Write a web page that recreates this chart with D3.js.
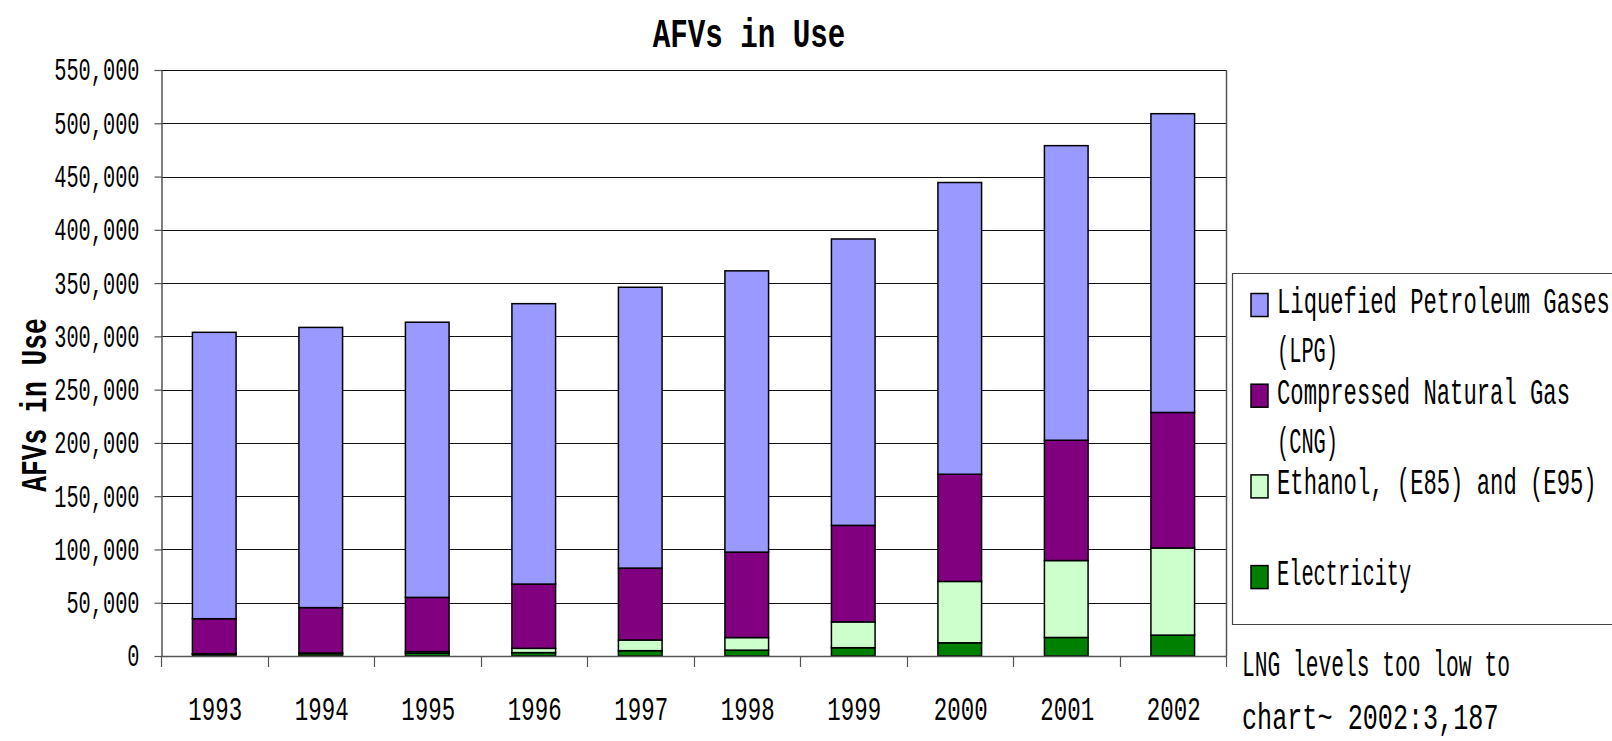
<!DOCTYPE html>
<html>
<head>
<meta charset="utf-8">
<script src="https://cdn.jsdelivr.net/npm/d3@7"></script>
<style>
	body { margin: 0; background: #fff; }
	svg text { font-family: "Liberation Mono", monospace; fill: #000; }
</style>
</head>
<body>
<svg id="chart" width="1612" height="741"></svg>
<script>

var years = ['1993', '1994', '1995', '1996', '1997', '1998', '1999', '2000', '2001', '2002'];

// vehicles in use (bottom to top)
var electricity = [1700, 2200, 2600, 3200, 5000, 5500, 7800, 12400, 17400, 19600];
var ethanol = [500, 600, 1500, 4000, 10000, 11800, 24200, 57600, 72200, 81800];
var cng = [32800, 42600, 50900, 60300, 67500, 80200, 90600, 100600, 112900, 127200];
var lpg = [268800, 263000, 258300, 263200, 263600, 264000, 268800, 273800, 276500, 280400];

var seriesKeys = ['electricity', 'ethanol', 'cng', 'lpg'];
var legendKeys = ['lpg', 'cng', 'ethanol', 'electricity'];
var legendLabels = [
	['Liquefied Petroleum Gases', '(LPG)'],
	['Compressed Natural Gas', '(CNG)'],
	['Ethanol, (E85) and (E95)'],
	['Electricity']
];
var yTicks = [0, 50000, 100000, 150000, 200000, 250000, 300000, 350000, 400000, 450000, 500000, 550000];
var titleText = 'AFVs in Use';
var yTitleText = 'AFVs in Use';
var noteLines = ['LNG  levels too low to', 'chart~ 2002:3,187'];

var colors = {
	electricity: '#008000',
	ethanol: '#ccffcc',
	cng: '#800080',
	lpg: '#9999ff'
};

var plot = { left: 161, right: 1226, top: 70, bottom: 656 };
var W = 1612;

var svg = d3.select('#chart');

// squash the text horizontally round its anchor, the original uses a narrow face
function squeeze(sel, k) {
	sel.each(function(d, i) {
		var f = (typeof k === 'function') ? k(d, i) : k;
		var el = d3.select(this);
		var x0 = +el.attr('x') || 0;
		var t = el.attr('transform') || '';
		el.attr('transform', t + ' translate(' + x0 + ',0) scale(' + f + ',1) translate(' + (-x0) + ',0)');
	});
}

var rows = years.map(function(yr, i) {
	return {
		year: yr,
		electricity: electricity[i],
		ethanol: ethanol[i],
		cng: cng[i],
		lpg: lpg[i]
	};
});

var stacked = d3.stack().keys(seriesKeys)(rows);

var x = d3.scaleBand()
	.domain(years)
	.range([plot.left, plot.right]);

var y = d3.scaleLinear()
	.domain([0, 550000])
	.range([plot.bottom, plot.top]);

var barWidth = x.bandwidth() * 0.41;

// gridlines
svg.append('g').attr('class', 'grid')
	.selectAll('line')
	.data(yTicks.filter(function(d) { return d > 0; }))
	.enter()
	.append('line')
		.attr('x1', plot.left)
		.attr('x2', plot.right)
		.attr('y1', function(d) { return Math.round(y(d)) + 0.5; })
		.attr('y2', function(d) { return Math.round(y(d)) + 0.5; })
		.attr('stroke', '#111')
		.attr('stroke-width', 1.2);

// right border of the plot area
svg.append('line')
	.attr('x1', plot.right + 0.5).attr('x2', plot.right + 0.5)
	.attr('y1', y(550000)).attr('y2', y(0))
	.attr('stroke', '#555')
	.attr('stroke-width', 1.5);

// bars
svg.append('g').attr('class', 'bars')
	.selectAll('g')
	.data(stacked)
	.enter()
	.append('g')
		.attr('fill', function(s) { return colors[s.key]; })
	.selectAll('rect')
	.data(function(s) { return s; })
	.enter()
	.append('rect')
		.attr('x', function(d) { return x(d.data.year) + (x.bandwidth() - barWidth) / 2; })
		.attr('y', function(d) { return y(d[1]); })
		.attr('width', barWidth)
		.attr('height', function(d) { return y(d[0]) - y(d[1]); })
		.attr('stroke', '#000')
		.attr('stroke-width', 1.5);

// y axis
var yAxis = svg.append('g')
	.attr('transform', 'translate(' + (plot.left + 0.5) + ',0)')
	.call(d3.axisLeft(y)
		.tickValues(yTicks)
		.tickFormat(d3.format(','))
		.tickSize(7)
		.tickSizeOuter(0)
		.tickPadding(15));

yAxis.select('.domain').attr('stroke', '#555').attr('stroke-width', 1.5);
yAxis.selectAll('.tick line').attr('stroke', '#555').attr('stroke-width', 1.2);
yAxis.selectAll('.tick text')
	.attr('font-family', '"Liberation Mono", monospace')
	.attr('font-size', 31)
	.attr('fill', '#000')
	.call(squeeze, 0.655);

// x axis: ticks sit between the categories
var xAxis = svg.append('g').attr('class', 'x-axis');

xAxis.append('line')
	.attr('x1', plot.left)
	.attr('x2', plot.right)
	.attr('y1', plot.bottom + 0.5)
	.attr('y2', plot.bottom + 0.5)
	.attr('stroke', '#555')
	.attr('stroke-width', 1.5);

xAxis.selectAll('.sep')
	.data(d3.range(years.length + 1))
	.enter()
	.append('line')
		.attr('class', 'sep')
		.attr('x1', function(i) { return Math.round(plot.left + i * x.step()) + 0.5; })
		.attr('x2', function(i) { return Math.round(plot.left + i * x.step()) + 0.5; })
		.attr('y1', plot.bottom)
		.attr('y2', plot.bottom + 11)
		.attr('stroke', '#555')
		.attr('stroke-width', 1.2);

xAxis.selectAll('.year')
	.data(years)
	.enter()
	.append('text')
		.attr('class', 'year')
		.attr('x', function(d) { return x(d) + x.bandwidth() / 2 + 1; })
		.attr('y', plot.bottom + 64)
		.attr('text-anchor', 'middle')
		.attr('font-size', 33)
		.text(function(d) { return d; })
		.call(squeeze, 0.68);

// titles
svg.append('text')
	.attr('x', 749)
	.attr('y', 47)
	.attr('text-anchor', 'middle')
	.attr('font-size', 40)
	.attr('font-weight', 'bold')
	.text(titleText)
	.call(squeeze, 0.73);

svg.append('text')
	.attr('transform', 'translate(46,405) rotate(-90)')
	.attr('text-anchor', 'middle')
	.attr('font-size', 37)
	.attr('font-weight', 'bold')
	.text(yTitleText)
	.call(squeeze, 0.71);

// legend, its box runs off the right edge of the picture
var legend = svg.append('g').attr('class', 'legend');

legend.append('path')
	.attr('d', 'M' + W + ',273.5H1232.5V624.5H' + W)
	.attr('fill', '#fff')
	.attr('stroke', '#444')
	.attr('stroke-width', 1.2);

var items = legend.selectAll('.item')
	.data(legendKeys)
	.enter()
	.append('g')
		.attr('class', 'item')
		.attr('transform', function(d, i) { return 'translate(1251,' + (305 + i * 90.7) + ')'; });

items.append('rect')
	.attr('x', 0)
	.attr('y', -11.5)
	.attr('width', 17)
	.attr('height', 23)
	.attr('fill', function(d) { return colors[d]; })
	.attr('stroke', '#000')
	.attr('stroke-width', 1.5);

items.each(function(d, i) {
	d3.select(this).selectAll('text')
		.data(legendLabels[i])
		.enter()
		.append('text')
			.attr('x', 26)
			.attr('y', function(t, j) { return 8 + j * 49.5; })
			.attr('font-size', 37)
			.text(function(t) { return t; })
			.call(squeeze, function(t) { return t.length < 12 ? 0.55 : 0.6; });
});

// note under the legend, kept just clear of the bottom edge
svg.append('g').attr('class', 'note')
	.selectAll('text')
	.data(noteLines)
	.enter()
	.append('text')
		.attr('x', 1242)
		.attr('y', function(d, i) { return 676 + i * 53; })
		.attr('font-size', 37)
		.text(function(d) { return d; })
		.call(squeeze, function(d, i) { return i === 0 ? 0.575 : 0.68; });

</script>
</body>
</html>
